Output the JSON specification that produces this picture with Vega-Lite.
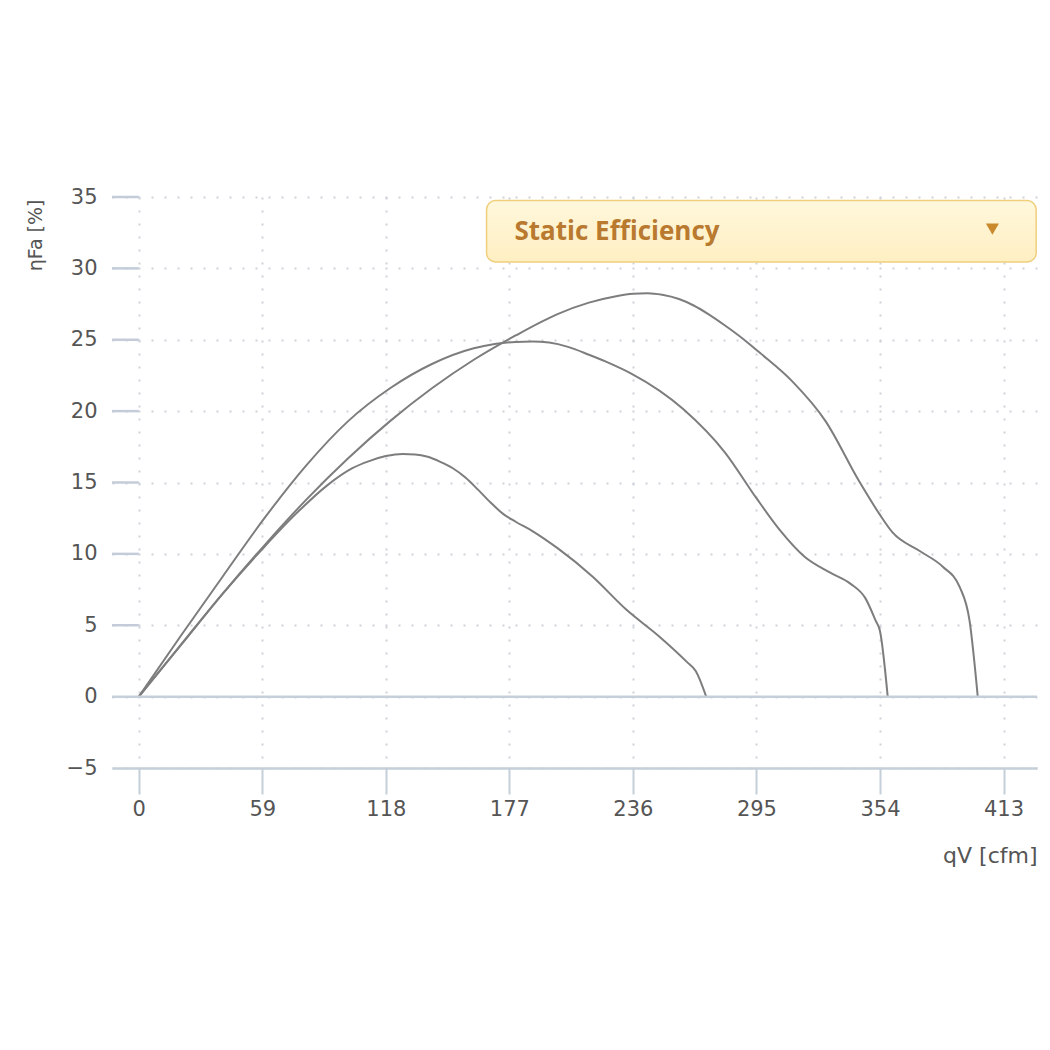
{
  "$schema": "https://vega.github.io/schema/vega-lite/v6.json",
  "width": 925,
  "height": 571,
  "autosize": {"type": "none"},
  "padding": {"left": 112, "top": 197, "right": 13, "bottom": 282},
  "background": "white",
  "config": {"view": {"stroke": null}},
  "layer": [
    {
      "data": {"values": [
        {"c": "A", "q": 0, "e": 0}, {"c": "A", "q": 20, "e": 3.6}, {"c": "A", "q": 40, "e": 7.2}, {"c": "A", "q": 60, "e": 10.5},
        {"c": "A", "q": 75, "e": 12.8}, {"c": "A", "q": 90, "e": 14.8}, {"c": "A", "q": 102, "e": 16.0}, {"c": "A", "q": 110, "e": 16.5},
        {"c": "A", "q": 118, "e": 16.85}, {"c": "A", "q": 126, "e": 17.0}, {"c": "A", "q": 132, "e": 16.97}, {"c": "A", "q": 138, "e": 16.8},
        {"c": "A", "q": 144, "e": 16.45}, {"c": "A", "q": 150, "e": 16.0}, {"c": "A", "q": 156, "e": 15.35}, {"c": "A", "q": 162, "e": 14.5},
        {"c": "A", "q": 168, "e": 13.6}, {"c": "A", "q": 174, "e": 12.8}, {"c": "A", "q": 180, "e": 12.25}, {"c": "A", "q": 188, "e": 11.6},
        {"c": "A", "q": 200, "e": 10.4}, {"c": "A", "q": 216.8, "e": 8.4}, {"c": "A", "q": 232.8, "e": 6.1}, {"c": "A", "q": 248.7, "e": 4.2},
        {"c": "A", "q": 262, "e": 2.4}, {"c": "A", "q": 266, "e": 1.8}, {"c": "A", "q": 271, "e": 0},
        {"c": "B", "q": 0, "e": 0}, {"c": "B", "q": 20, "e": 4.25}, {"c": "B", "q": 40, "e": 8.4}, {"c": "B", "q": 60, "e": 12.5},
        {"c": "B", "q": 80, "e": 16.2}, {"c": "B", "q": 100, "e": 19.3}, {"c": "B", "q": 120, "e": 21.6}, {"c": "B", "q": 140, "e": 23.3},
        {"c": "B", "q": 160, "e": 24.4}, {"c": "B", "q": 170, "e": 24.7}, {"c": "B", "q": 180, "e": 24.85}, {"c": "B", "q": 188, "e": 24.88},
        {"c": "B", "q": 196, "e": 24.8}, {"c": "B", "q": 205, "e": 24.5}, {"c": "B", "q": 215, "e": 23.95}, {"c": "B", "q": 225, "e": 23.35},
        {"c": "B", "q": 235, "e": 22.65}, {"c": "B", "q": 260, "e": 20.15}, {"c": "B", "q": 280, "e": 17.1},
        {"c": "B", "q": 295, "e": 13.9}, {"c": "B", "q": 306, "e": 11.7}, {"c": "B", "q": 318, "e": 9.8}, {"c": "B", "q": 330, "e": 8.7},
        {"c": "B", "q": 340, "e": 7.9}, {"c": "B", "q": 347, "e": 6.9}, {"c": "B", "q": 352, "e": 5.3}, {"c": "B", "q": 354, "e": 4.6},
        {"c": "B", "q": 357.7, "e": 0},
        {"c": "C", "q": 0, "e": 0}, {"c": "C", "q": 20, "e": 3.6}, {"c": "C", "q": 40, "e": 7.2}, {"c": "C", "q": 60, "e": 10.6},
        {"c": "C", "q": 80, "e": 13.8}, {"c": "C", "q": 100, "e": 16.7}, {"c": "C", "q": 120, "e": 19.3}, {"c": "C", "q": 140, "e": 21.6},
        {"c": "C", "q": 160, "e": 23.6}, {"c": "C", "q": 180, "e": 25.3}, {"c": "C", "q": 200, "e": 26.8}, {"c": "C", "q": 215, "e": 27.6},
        {"c": "C", "q": 228, "e": 28.05}, {"c": "C", "q": 236, "e": 28.22}, {"c": "C", "q": 243, "e": 28.26}, {"c": "C", "q": 250, "e": 28.15},
        {"c": "C", "q": 258, "e": 27.85}, {"c": "C", "q": 265, "e": 27.4}, {"c": "C", "q": 272, "e": 26.8}, {"c": "C", "q": 280, "e": 26.0},
        {"c": "C", "q": 290, "e": 24.9}, {"c": "C", "q": 296.5, "e": 24.1}, {"c": "C", "q": 312, "e": 22.1}, {"c": "C", "q": 328, "e": 19.3},
        {"c": "C", "q": 344, "e": 15.1}, {"c": "C", "q": 353.7, "e": 12.8}, {"c": "C", "q": 360, "e": 11.5}, {"c": "C", "q": 373, "e": 10.2},
        {"c": "C", "q": 384, "e": 9.1}, {"c": "C", "q": 392, "e": 7.7}, {"c": "C", "q": 396.8, "e": 5.3}, {"c": "C", "q": 400.7, "e": 0}
      ]},
      "mark": {"type": "line", "interpolate": "monotone", "color": "#7d7d7d", "strokeWidth": 2},
      "encoding": {
        "x": {
          "field": "q", "type": "quantitative",
          "scale": {"domain": [-12.8, 429], "nice": false, "zero": false},
          "axis": {
            "values": [0, 59, 118, 177, 236, 295, 354, 413],
            "grid": true, "gridDash": [2, 11], "gridColor": "#cdd2da", "gridWidth": 2,
            "domainColor": "#c5cfd9", "domainWidth": 2.5,
            "tickColor": "#c5cfd9", "tickWidth": 2, "tickSize": 26,
            "labelFont": "DejaVu Sans", "labelFontSize": 21, "labelColor": "#555555", "labelPadding": 4,
            "title": "qV [cfm]", "titleFont": "DejaVu Sans", "titleFontSize": 22, "titleFontWeight": "normal",
            "titleColor": "#555555", "titleAnchor": "end", "titlePadding": 26
          }
        },
        "y": {
          "field": "e", "type": "quantitative",
          "scale": {"domain": [-5, 35], "nice": false, "zero": false},
          "axis": {
            "values": [-5, 0, 5, 10, 15, 20, 25, 30, 35],
            "grid": true, "gridDash": [2, 11], "gridColor": "#cdd2da", "gridWidth": 2,
            "domain": false, "ticks": false, "labelPadding": 15,
            "labelFont": "DejaVu Sans", "labelFontSize": 21, "labelColor": "#555555",
            "title": "ηFa [%]", "titleFont": "DejaVu Sans", "titleFontSize": 19, "titleFontWeight": "normal",
            "titleColor": "#555555", "titleAnchor": "end", "titleAlign": "right", "titleAngle": -90,
            "titleBaseline": "middle", "titleX": -77, "titleY": 2
          }
        },
        "detail": {"field": "c"}
      }
    },
    {
      "data": {"values": [{"t": 35}, {"t": 30}, {"t": 25}, {"t": 20}, {"t": 15}, {"t": 10}, {"t": 5}]},
      "mark": {"type": "rule", "color": "#c3ccd8", "strokeWidth": 2.5},
      "encoding": {
        "y": {"field": "t", "type": "quantitative"},
        "x": {"datum": -12.8},
        "x2": {"datum": 0}
      }
    },
    {
      "data": {"values": [{"t": 0}]},
      "mark": {"type": "rule", "color": "#c5cfd9", "strokeWidth": 2.5},
      "encoding": {"y": {"field": "t", "type": "quantitative"}}
    },
    {
      "data": {"values": [{"label": "Static Efficiency"}]},
      "layer": [
        {
          "mark": {
            "type": "rect", "cornerRadius": 9, "stroke": "#f0cf7c", "strokeWidth": 1.5,
            "fill": {"x1": 0, "y1": 0, "x2": 0, "y2": 1, "gradient": "linear",
              "stops": [{"offset": 0, "color": "#fff8dc"}, {"offset": 0.5, "color": "#fff3cf"}, {"offset": 1, "color": "#ffefc2"}]}
          },
          "encoding": {
            "x": {"datum": 166.1}, "x2": {"datum": 428.6},
            "y": {"datum": 34.75}, "y2": {"datum": 30.45}
          }
        },
        {
          "mark": {"type": "text", "font": "Open Sans", "fontWeight": "bold", "fontSize": 26, "color": "#b97a30", "align": "left", "baseline": "middle"},
          "encoding": {
            "x": {"datum": 179.4}, "y": {"datum": 32.55},
            "text": {"field": "label"}
          }
        },
        {
          "mark": {"type": "point", "shape": "triangle-down", "filled": true, "size": 170, "color": "#c98a2e", "opacity": 1},
          "encoding": {
            "x": {"datum": 407.7}, "y": {"datum": 32.75}
          }
        }
      ]
    }
  ]
}
